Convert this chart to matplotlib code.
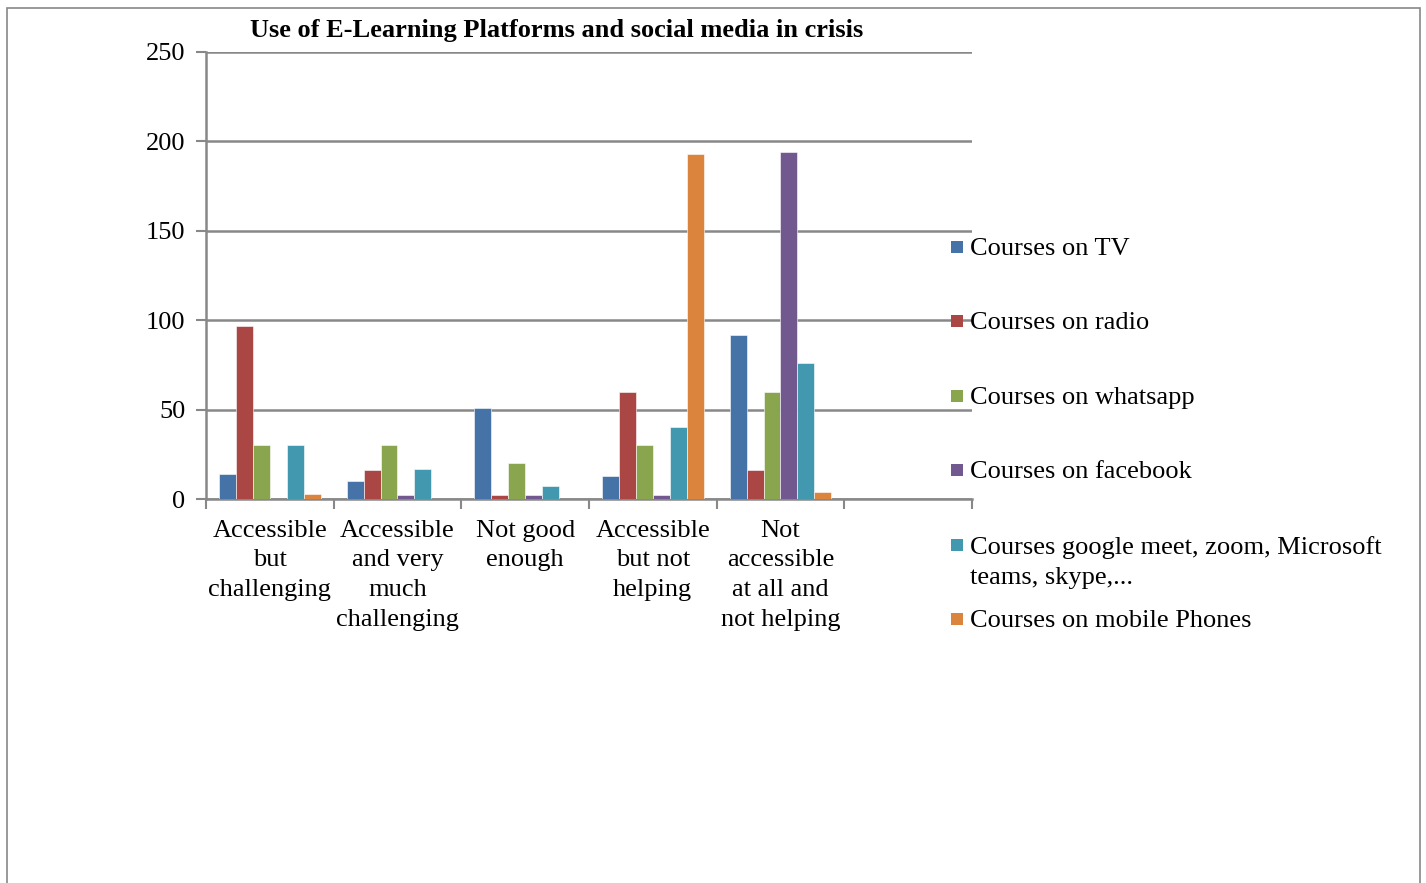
import matplotlib
matplotlib.use("Agg")
import matplotlib.pyplot as plt
from matplotlib.patches import Rectangle
import numpy as np

plt.rcParams['font.family'] = ['Liberation Serif', 'DejaVu Serif']

categories = ["Accessible\nbut\nchallenging", "Accessible\nand very\nmuch\nchallenging",
              "Not good\nenough", "Accessible\nbut not\nhelping",
              "Not\naccessible\nat all and\nnot helping", ""]
series_names = ["Courses on TV", "Courses on radio", "Courses on whatsapp",
                "Courses on facebook",
                "Courses google meet, zoom, Microsoft\nteams, skype,...",
                "Courses on mobile Phones"]
tv = [14, 10, 51, 13, 92, 0]
radio = [97, 16, 2, 60, 16, 0]
whatsapp = [30, 30, 20, 30, 60, 0]
facebook = [0, 2, 2, 2, 194, 0]
google = [30, 17, 7, 40, 76, 0]
mobile = [3, 0, 0, 193, 4, 0]
colors = ["#4572A7", "#AA4643", "#89A54E", "#71588F", "#4198AF", "#DB843D"]
title = "Use of E-Learning Platforms and social media in crisis"

series = [tv, radio, whatsapp, facebook, google, mobile]

W, H = 1426, 883
FS = 19
fig = plt.figure(figsize=(W / 100, H / 100), dpi=100)
fig.patches.append(Rectangle((7 / W, -0.1), (1420 - 7) / W, 1 - 8 / H + 0.1,
                             transform=fig.transFigure, fill=False,
                             edgecolor="#888888", linewidth=1.2))

ax = fig.add_axes([206 / W, 1 - 499 / H, (972 - 206) / W, (499 - 52) / H])
x = np.arange(len(categories))
bw = 0.133
n = len(series)
for i, (vals, c) in enumerate(zip(series, colors)):
    offs = (i - (n - 1) / 2) * bw
    ax.bar(x + offs, vals, width=bw, color=c, edgecolor="white", linewidth=0.4, zorder=3)

ax.set_xlim(-0.5, len(categories) - 0.5)
ax.set_ylim(0, 250)
ax.set_yticks([0, 50, 100, 150, 200, 250])
ax.yaxis.grid(True, color="#888888", linewidth=1.8, zorder=0)
ax.set_xticks(x)
ax.set_xticklabels(categories, fontsize=FS, linespacing=1.45)
ax.set_xticks(np.arange(-0.5, len(categories)), minor=True)
ax.tick_params(axis='x', which='major', length=0, pad=15)
ax.tick_params(axis='x', which='minor', length=7, width=1.5, color="#888888", direction='out')
ax.tick_params(axis='y', length=7, width=1.5, color="#888888", labelsize=FS, pad=8)
for s in ['top', 'right']:
    ax.spines[s].set_visible(False)
for s in ['left', 'bottom']:
    ax.spines[s].set_color("#888888")
    ax.spines[s].set_linewidth(1.8)

fig.text(557 / W, 1 - 30 / H, title, ha='center', va='center', fontsize=19, fontweight='bold')

# legend
ys = [247, 321, 396, 470, 545, 619]
for name, c, yy in zip(series_names, colors, ys):
    fig.patches.append(Rectangle((951 / W, 1 - (yy + 6) / H), 12 / W, 12 / H,
                                 transform=fig.transFigure, facecolor=c, edgecolor='none'))
    fig.text(970 / W, 1 - (yy - 9) / H, name, ha='left', va='top', fontsize=FS, linespacing=1.45)

fig.savefig("out.png", dpi=100)
